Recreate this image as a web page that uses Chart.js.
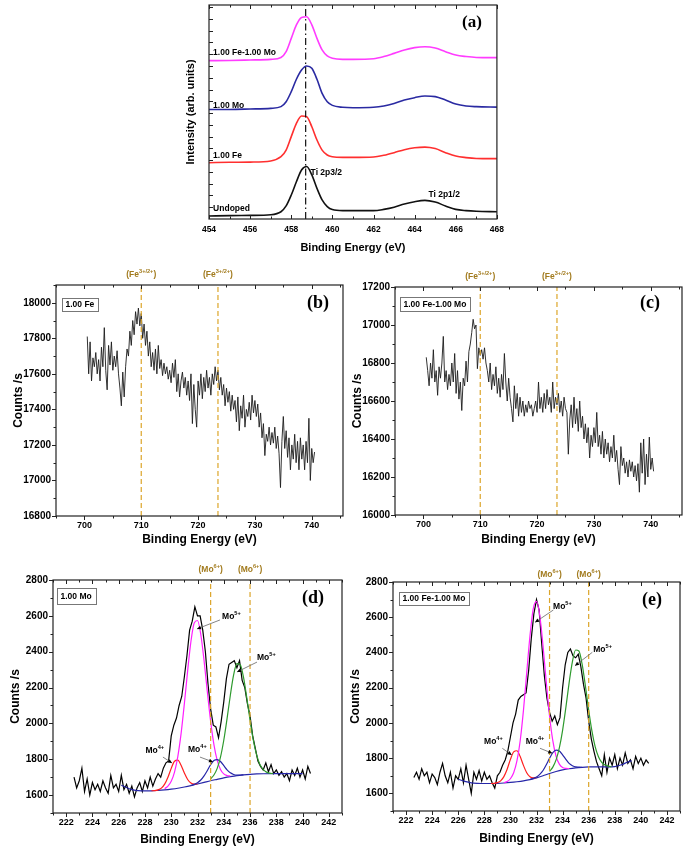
<!DOCTYPE html>
<html lang="en">
<head>
<meta charset="utf-8">
<title>XPS spectra</title>
<script src="https://cdn.jsdelivr.net/npm/chart.js@4.4.1/dist/chart.umd.min.js"></script>
<style>
  body { margin: 0; background: #fff; }
  #figure { position: relative; width: 685px; height: 852px; overflow: hidden; }
  #figure canvas { position: absolute; }
</style>
</head>
<body>
<div id="figure">
  <canvas id="panelA"></canvas>
  <canvas id="panelB"></canvas>
  <canvas id="panelC"></canvas>
  <canvas id="panelD"></canvas>
  <canvas id="panelE"></canvas>
</div>
<script>
// ---- (a) Ti 2p, stacked spectra (arb. units) ----
const tiEnergy = [454, 455, 456, 457, 457.5, 457.75, 458, 458.25, 458.5, 458.75, 459, 459.25, 459.5, 459.75,
  460, 460.5, 461, 462, 462.5, 463, 463.5, 464, 464.5, 465, 465.5, 466, 466.5, 467, 468];
const tiUndoped = [1.4, 1.6, 1.7, 2.0, 3.4, 6.1, 11.2, 17.4, 22.9, 24.5, 20.6, 14.3, 8.9, 5.8,
  4.4, 3.9, 3.9, 3.9, 4.5, 5.5, 7.0, 8.1, 8.7, 7.9, 6.1, 4.5, 3.9, 3.6, 3.4];
const tiFe = [26.3, 26.5, 26.6, 27.1, 29.1, 32.2, 38.5, 44.7, 48.1, 47.8, 43.1, 36.9, 32.2, 29.9,
  29.1, 28.8, 28.8, 29.0, 29.8, 31.0, 32.4, 33.3, 33.6, 32.9, 31.0, 29.4, 28.7, 28.3, 28.2];
const tiMo = [51.2, 51.2, 51.4, 51.7, 52.5, 54.8, 59.5, 65.3, 69.6, 71.5, 70.4, 65.3, 58.7, 54.8,
  53.1, 52.2, 52.0, 52.2, 52.8, 54.0, 55.6, 56.7, 57.5, 57.2, 55.6, 53.7, 52.8, 52.5, 52.3];
const tiFeMo = [74.0, 74.1, 74.3, 74.6, 75.5, 78.2, 84.4, 90.7, 94.2, 94.5, 90.7, 84.4, 79.0, 76.2,
  75.1, 74.6, 74.6, 74.9, 75.9, 77.4, 79.0, 80.1, 80.5, 79.9, 78.2, 76.6, 75.9, 75.5, 75.4];
const ti2p32 = 458.7;

// ---- (b), (c) Fe 2p scans, 700.5 .. 740.5 eV every 0.25 eV ----
const feScanStart = 700.5, feScanStep = 0.25;
const feCounts = [
  17810, 17600, 17780, 17560, 17690, 17640, 17720, 17600, 17680, 17560, 17750, 17640,
  17860, 17620, 17510, 17760, 17650, 17780, 17620, 17700, 17640, 17730, 17600, 17520,
  17420, 17610, 17470, 17640, 17740, 17700, 17840, 17760, 17900, 17820, 17950, 17880,
  17970, 17870, 17940, 17800, 17880, 17760, 17840, 17700, 17780, 17640, 17720, 17620,
  17740, 17600, 17760, 17630, 17680, 17590, 17660, 17600, 17640, 17570, 17620, 17550,
  17660, 17580, 17680, 17500, 17600, 17470, 17560, 17610, 17520, 17580, 17480, 17560,
  17450, 17600, 17320, 17540, 17400, 17300, 17560, 17480, 17600, 17460, 17580, 17500,
  17620, 17520, 17580, 17480, 17600, 17540, 17640, 17560, 17620, 17510, 17580, 17480,
  17540, 17420, 17520, 17440, 17500, 17390, 17480, 17400, 17450, 17330, 17470, 17280,
  17420, 17350, 17480, 17300, 17400, 17360, 17440, 17340, 17480, 17380, 17450, 17360,
  17430, 17300, 17380, 17240, 17320, 17140, 17260, 17220, 17300, 17200, 17270, 17210,
  17300, 17180, 17250, 17150, 16960, 17220, 17360, 17180, 17280, 17130, 17240, 17060,
  17200, 17120, 17260, 17100, 17220, 17060, 17240, 17120, 17200, 17060, 17220, 17100,
  17350, 17000, 17180, 17100, 17160];
const feMoCounts = [
  16830, 16760, 16680, 16800, 16720, 16870, 16700, 16760, 16630, 16780, 16720, 16800,
  16940, 16700, 16760, 16660, 16740, 16680, 16800, 16700, 16850, 16640, 16760, 16610,
  16700, 16550, 16720, 16680, 16810, 16700, 16860, 16900, 16960, 17030, 16980, 17000,
  16770, 16880, 16840, 16870, 16820, 16880, 16800, 16760, 16700, 16800, 16660, 16740,
  16680, 16780, 16640, 16720, 16620, 16740, 16660, 16850, 16700, 16600, 16720, 16620,
  16560, 16490, 16680, 16560, 16640, 16520, 16620, 16540, 16600, 16520, 16580, 16540,
  16600, 16560, 16580, 16520, 16560, 16600, 16540, 16700, 16560, 16620, 16540, 16640,
  16560, 16660, 16580, 16620, 16540, 16700, 16560, 16620, 16580, 16640, 16540, 16600,
  16520, 16620, 16560, 16540, 16320, 16500, 16580, 16460, 16620, 16480, 16560, 16440,
  16600, 16460, 16520, 16400, 16480, 16380, 16460, 16300, 16420, 16360, 16460, 16380,
  16540, 16360, 16420, 16320, 16440, 16300, 16400, 16320, 16380, 16280, 16360, 16300,
  16420, 16280, 16340, 16240, 16160, 16360, 16260, 16300, 16220, 16280, 16200, 16290,
  16230, 16280, 16200, 16260, 16180, 16270, 16120, 16380, 16220, 16400, 16160, 16320,
  16200, 16410, 16240, 16300, 16230];
const feLines = [710, 723.5];

// ---- (d), (e) Mo 3d scans, 222.6 .. 240.6 eV every 0.2 eV ----
const moScanStart = 222.6, moScanStep = 0.2;
const moCounts = [
  1700, 1640, 1680, 1750, 1620, 1690, 1600, 1670, 1630, 1660,
  1620, 1680, 1640, 1610, 1710, 1640, 1660, 1620, 1710, 1630,
  1660, 1610, 1650, 1590, 1640, 1670, 1620, 1680, 1640, 1700,
  1650, 1690, 1720, 1700, 1750, 1780, 1790, 1930, 1990, 2030,
  2100, 2150, 2260, 2380, 2520, 2570, 2650, 2600, 2600, 2520,
  2400, 2220, 2080, 1990, 1980, 1920, 2010, 2120, 2250, 2330,
  2340, 2350, 2310, 2350, 2240, 2200, 2110, 2040, 1930, 1860,
  1790, 1760, 1740, 1780, 1730, 1770, 1720, 1740, 1710, 1730,
  1700, 1720, 1680, 1740, 1710, 1750, 1700, 1740, 1690, 1760, 1720];
const feMoMoCounts = [
  1690, 1720, 1680, 1740, 1700, 1720, 1660, 1710, 1690, 1650,
  1720, 1770, 1700, 1660, 1720, 1630, 1700, 1680, 1740, 1660,
  1760, 1680, 1600, 1720, 1680, 1730, 1670, 1720, 1680, 1700,
  1660, 1630, 1700, 1720, 1760, 1790, 1840, 1920, 2000, 2050,
  2130, 2150, 2160, 2170, 2300, 2480, 2620, 2700, 2640, 2450,
  2270, 2140, 2060, 2010, 2040, 1990, 2030, 2200, 2330, 2400,
  2420, 2380, 2370, 2390, 2320, 2220, 2140, 2010, 1910, 1840,
  1780, 1740, 1700, 1820, 1720, 1800, 1760, 1820, 1740, 1800,
  1760, 1830, 1770, 1790, 1740, 1810, 1770, 1800, 1760, 1790, 1770];
const moLines = [233, 236];

// fitted components, every 0.25 eV from the given start
const fitStep = 0.25;
const dRedStart = 228.5, dRed = [1624, 1625, 1629, 1639, 1661, 1700, 1749, 1789, 1795, 1766, 1723, 1687, 1667, 1661, 1663];
const dMagStart = 229.5, dMag = [1636, 1650, 1677, 1728, 1815, 1943, 2110, 2293, 2457, 2560, 2574, 2496, 2350, 2175, 2011, 1882, 1794, 1743, 1718, 1709, 1706];
const dBlueStart = 231.5, dBlue = [1654, 1660, 1669, 1684, 1707, 1737, 1770, 1793, 1798, 1787, 1764, 1741, 1724, 1715, 1712, 1712, 1713];
const dGreenStart = 233, dGreen = [1691, 1712, 1749, 1812, 1906, 2027, 2157, 2270, 2333, 2328, 2258, 2144, 2018, 1907, 1824, 1771, 1743, 1728, 1722, 1720];
const dBgE = [226.2, 226.5, 227, 227.5, 228, 228.5, 229, 229.5, 230, 230.5, 231, 231.5, 232, 232.5, 233, 233.5, 234, 234.5, 235, 235.5, 236, 236.5, 237, 238, 239, 240];
const dBg = [1655, 1645, 1630, 1625, 1624, 1624, 1626, 1629, 1633, 1638, 1645, 1653, 1662, 1671, 1680, 1688, 1696, 1703, 1709, 1713, 1716, 1718, 1719, 1720, 1720, 1720];

const eRedStart = 228.5, eRed = [1656, 1657, 1661, 1671, 1695, 1737, 1793, 1836, 1842, 1809, 1759, 1717, 1694, 1688, 1689];
const eMagStart = 229.5, eMag = [1661, 1667, 1683, 1717, 1784, 1899, 2071, 2285, 2495, 2648, 2690, 2611, 2438, 2230, 2039, 1899, 1811, 1766, 1747, 1742, 1741];
const eBlueStart = 231.5, eBlue = [1679, 1685, 1693, 1708, 1730, 1763, 1799, 1831, 1846, 1841, 1819, 1793, 1770, 1757, 1750, 1749, 1748];
const eGreenStart = 233, eGreen = [1725, 1749, 1790, 1858, 1958, 2087, 2227, 2347, 2414, 2408, 2332, 2209, 2073, 1953, 1864, 1808, 1776, 1761, 1755, 1751];
const eBgE = [226, 226.5, 227, 227.5, 228, 228.5, 229, 229.5, 230, 230.5, 231, 231.5, 232, 232.5, 233, 233.5, 234, 234.5, 235, 235.5, 236, 236.5, 237, 237.5, 238, 238.5, 239, 239.3];
const eBg = [1680, 1668, 1660, 1657, 1656, 1656, 1657, 1659, 1662, 1666, 1671, 1678, 1688, 1700, 1713, 1724, 1733, 1740, 1745, 1748, 1750, 1751, 1751, 1751, 1752, 1762, 1778, 1785];

// ---- helpers ----
const SANS = '"Liberation Sans", Arial, Helvetica, sans-serif';
const SERIF = '"Liberation Serif", "Times New Roman", serif';
const GOLD_LINE = '#dca52a';
const GOLD_TEXT = '#a27b1e';
Chart.defaults.font.family = SANS;
Chart.defaults.color = '#000';

function series(start, step, vals) {
  return vals.map((v, i) => ({ x: +(start + i * step).toFixed(3), y: v }));
}
function pairs(xs, ys) { return xs.map((x, i) => ({ x, y: ys[i] })); }
function range(a, b, s) {
  const out = [];
  for (let v = a; v <= b + 1e-9; v += s) out.push(+v.toFixed(3));
  return out;
}
function curve(data, color, width, smooth) {
  return { data, borderColor: color, borderWidth: width, pointRadius: 0, fill: false,
           tension: 0, cubicInterpolationMode: smooth ? 'monotone' : 'default' };
}
function vline(x, lo, hi, color, dash) {
  return { data: [{ x, y: lo }, { x, y: hi }], borderColor: color, borderWidth: 1.2,
           borderDash: dash, pointRadius: 0, fill: false };
}

// text with superscript parts: parts = [normal, sup, normal, ...]
function richWidth(ctx, parts, size) {
  let w = 0;
  parts.forEach((t, i) => { ctx.font = `bold ${i % 2 ? size * 0.66 : size}px ${SANS}`; w += ctx.measureText(t).width; });
  return w;
}
function drawRich(ctx, parts, x, y, size, align, color) {
  const supSize = size * 0.66;
  let cx = align === 'center' ? x - richWidth(ctx, parts, size) / 2 : x;
  ctx.fillStyle = color;
  ctx.textAlign = 'left';
  ctx.textBaseline = 'middle';
  parts.forEach((t, i) => {
    ctx.font = `bold ${i % 2 ? supSize : size}px ${SANS}`;
    ctx.fillText(t, cx, i % 2 ? y - size * 0.38 : y);
    cx += ctx.measureText(t).width;
  });
}

const decoPlugin = {
  id: 'deco',
  afterDraw(chart, args, o) {
    const { ctx, chartArea: a, scales: { x, y } } = chart;
    ctx.save();
    const seg = (x1, y1, x2, y2) => { ctx.beginPath(); ctx.moveTo(x1, y1); ctx.lineTo(x2, y2); ctx.stroke(); };
    const out = o.tickDir === 'out' ? 1 : -1;

    // frame and tick marks
    ctx.strokeStyle = '#222';
    ctx.lineWidth = 1.2;
    ctx.strokeRect(a.left, a.top, a.right - a.left, a.bottom - a.top);
    ctx.lineWidth = 1;
    [[o.xMajor, 4], [o.xMinor, 2.5]].forEach(([vals, len]) => vals.forEach(v => {
      const px = Math.round(x.getPixelForValue(v)) + 0.5;
      seg(px, a.bottom, px, a.bottom + out * len);
      seg(px, a.top, px, a.top + len);
    }));
    [[o.yMajor, 4], [o.yMinor, 2.5]].forEach(([vals, len]) => vals.forEach(v => {
      const py = Math.round(y.getPixelForValue(v)) + 0.5;
      seg(a.left, py, a.left - out * len, py);
    }));

    // labels above the reference lines
    (o.marks || []).forEach(m => drawRich(ctx, m.parts, x.getPixelForValue(m.x), a.top + o.markDy, 8.5, 'center', GOLD_TEXT));

    // sample name box, sized to its text
    if (o.box) {
      const b = o.box;
      const w = Math.max(b.w, Math.ceil(richWidth(ctx, [b.text], 8.5)) + 7);
      ctx.fillStyle = '#fff';
      ctx.fillRect(a.left + b.dx, a.top + b.dy, w, b.h);
      ctx.strokeStyle = '#777';
      ctx.lineWidth = 1;
      ctx.strokeRect(a.left + b.dx + 0.5, a.top + b.dy + 0.5, w, b.h);
      drawRich(ctx, [b.text], a.left + b.dx + 3.5, a.top + b.dy + b.h / 2 + 0.5, 8.5, 'left', '#000');
    }

    // free labels and arrows
    (o.texts || []).forEach(t => drawRich(ctx, t.parts, x.getPixelForValue(t.at[0]), y.getPixelForValue(t.at[1]), t.size || 8.5, 'left', '#000'));
    (o.arrows || []).forEach(([p, q]) => {
      const x1 = x.getPixelForValue(p[0]), y1 = y.getPixelForValue(p[1]);
      const x2 = x.getPixelForValue(q[0]), y2 = y.getPixelForValue(q[1]);
      ctx.strokeStyle = '#666';
      ctx.lineWidth = 0.8;
      seg(x1, y1, x2, y2);
      const ang = Math.atan2(y2 - y1, x2 - x1), L = 4.5;
      ctx.fillStyle = '#000';
      ctx.beginPath();
      ctx.moveTo(x2, y2);
      ctx.lineTo(x2 - L * Math.cos(ang - 0.45), y2 - L * Math.sin(ang - 0.45));
      ctx.lineTo(x2 - L * Math.cos(ang + 0.45), y2 - L * Math.sin(ang + 0.45));
      ctx.closePath();
      ctx.fill();
    });

    // panel letter
    const l = o.letter;
    ctx.font = `bold ${l.size}px ${SERIF}`;
    ctx.fillStyle = '#000';
    ctx.textAlign = 'center';
    ctx.textBaseline = 'middle';
    ctx.fillText(l.text, a.right + l.dx, a.top + l.dy);
    ctx.restore();
  }
};

function makePanel(id, spec) {
  const cv = document.getElementById(id);
  const b = spec.box, a = spec.area;
  cv.style.left = b.l + 'px';
  cv.style.top = b.t + 'px';
  cv.width = b.w;
  cv.height = b.h;
  return new Chart(cv, {
    type: 'line',
    data: { datasets: spec.datasets },
    options: {
      responsive: false,
      animation: false,
      devicePixelRatio: 1,
      layout: { autoPadding: false, padding: { top: a.t - b.t, right: b.l + b.w - a.r, left: 0, bottom: 0 } },
      plugins: { legend: { display: false }, tooltip: { enabled: false }, deco: spec.deco },
      scales: {
        x: {
          type: 'linear', min: spec.x.min, max: spec.x.max,
          afterBuildTicks: s => { s.ticks = spec.x.labels.map(value => ({ value })); },
          ticks: { color: '#000', font: { size: spec.x.font, weight: 'bold' }, padding: spec.x.pad,
                   maxRotation: 0, autoSkip: false, callback: v => String(v) },
          grid: { display: false, drawTicks: false },
          border: { display: false },
          title: { display: true, text: 'Binding Energy (eV)', color: '#000', padding: 0,
                   font: { size: spec.x.titleSize, weight: 'bold' } },
          afterFit: s => { s.height = b.t + b.h - a.b; }
        },
        y: {
          type: 'linear', min: spec.y.min, max: spec.y.max,
          afterBuildTicks: s => { s.ticks = spec.y.labels.map(value => ({ value })); },
          ticks: { display: spec.y.labels.length > 0, color: '#000', font: { size: 10, weight: 'bold' },
                   padding: 5, autoSkip: false, callback: v => String(v) },
          grid: { display: false, drawTicks: false },
          border: { display: false },
          title: { display: true, text: spec.y.title, color: '#000', padding: 0,
                   font: { size: spec.y.titleSize, weight: 'bold' } },
          afterFit: s => { s.width = a.l - b.l; }
        }
      }
    },
    plugins: [decoPlugin]
  });
}

const FE_LABEL = ['(Fe', '3+/2+', ')'];
const MO_LABEL = ['(Mo', '6+', ')'];
const FE_X = { min: 695, max: 745.5, labels: range(700, 740, 10), font: 9, pad: 4, titleSize: 12 };
const MO_X = { min: 221, max: 243, labels: range(222, 242, 2), font: 9, pad: 4, titleSize: 12 };
const MO_Y = { min: 1500, max: 2800, labels: range(1600, 2800, 200), title: 'Counts /s', titleSize: 12 };

// (a)
makePanel('panelA', {
  box: { l: 184, t: 0, w: 326, h: 255 }, area: { l: 209, t: 5, r: 500, b: 219 },
  x: { min: 454, max: 468, labels: range(454, 468, 2), font: 8.5, pad: 6, titleSize: 11 },
  y: { min: 0, max: 100, labels: [], title: 'Intensity (arb. units)', titleSize: 11 },
  datasets: [
    vline(ti2p32, 0, 100, '#111', [7, 3, 1.5, 3]),
    curve(pairs(tiEnergy, tiFeMo), '#ff3cff', 1.6, true),
    curve(pairs(tiEnergy, tiMo), '#2a2aa2', 1.6, true),
    curve(pairs(tiEnergy, tiFe), '#ff2f2f', 1.6, true),
    curve(pairs(tiEnergy, tiUndoped), '#111', 1.6, true)
  ],
  deco: {
    tickDir: 'in', xMajor: range(454, 468, 2), xMinor: range(455, 467, 2),
    yMajor: range(5.5, 99, 5.5), yMinor: [],
    letter: { text: '(a)', dx: -25, dy: 18, size: 17 },
    texts: [
      { at: [454.2, 77.6], parts: ['1.00 Fe-1.00 Mo'] },
      { at: [454.2, 52.8], parts: ['1.00 Mo'] },
      { at: [454.2, 29.4], parts: ['1.00 Fe'] },
      { at: [454.2, 4.7], parts: ['Undoped'] },
      { at: [458.94, 21.8], parts: ['Ti 2p3/2'] },
      { at: [464.67, 11.2], parts: ['Ti 2p1/2'] }
    ]
  }
});

// (b)
makePanel('panelB', {
  box: { l: 11, t: 262, w: 334, h: 285 }, area: { l: 56, t: 285, r: 343, b: 516 },
  x: FE_X,
  y: { min: 16800, max: 18100, labels: range(16800, 18000, 200), title: 'Counts /s', titleSize: 12 },
  datasets: [
    ...feLines.map(e => vline(e, 16800, 18100, GOLD_LINE, [5, 3])),
    curve(series(feScanStart, feScanStep, feCounts), '#1c1c1c', 0.9, false)
  ],
  deco: {
    tickDir: 'out', xMajor: range(700, 740, 10), xMinor: range(695, 745, 10),
    yMajor: range(16800, 18000, 200), yMinor: range(16900, 18100, 200),
    marks: feLines.map(e => ({ x: e, parts: FE_LABEL })), markDy: -10,
    box: { dx: 6, dy: 13, w: 33, h: 13, text: '1.00 Fe' },
    letter: { text: '(b)', dx: -25, dy: 18, size: 18 }
  }
});

// (c)
makePanel('panelC', {
  box: { l: 350, t: 262, w: 335, h: 285 }, area: { l: 395, t: 287, r: 682, b: 515 },
  x: FE_X,
  y: { min: 16000, max: 17200, labels: range(16000, 17200, 200), title: 'Counts /s', titleSize: 12 },
  datasets: [
    ...feLines.map(e => vline(e, 16000, 17200, GOLD_LINE, [5, 3])),
    curve(series(feScanStart, feScanStep, feMoCounts), '#1c1c1c', 0.9, false)
  ],
  deco: {
    tickDir: 'out', xMajor: range(700, 740, 10), xMinor: range(695, 745, 10),
    yMajor: range(16000, 17200, 200), yMinor: range(16100, 17100, 200),
    marks: feLines.map(e => ({ x: e, parts: FE_LABEL })), markDy: -10,
    box: { dx: 5, dy: 10, w: 68, h: 14, text: '1.00 Fe-1.00 Mo' },
    letter: { text: '(c)', dx: -32, dy: 16, size: 18 }
  }
});

// (d)
makePanel('panelD', {
  box: { l: 8, t: 560, w: 337, h: 287 }, area: { l: 53, t: 580, r: 342, b: 813 },
  x: MO_X, y: MO_Y,
  datasets: [
    ...moLines.map(e => vline(e, 1500, 2800, GOLD_LINE, [5, 3])),
    curve(series(dGreenStart, fitStep, dGreen), '#2e9a2e', 1.2, true),
    curve(series(dBlueStart, fitStep, dBlue), '#2626a8', 1.2, true),
    curve(series(dMagStart, fitStep, dMag), '#ff1fff', 1.2, true),
    curve(series(dRedStart, fitStep, dRed), '#ff2020', 1.2, true),
    curve(pairs(dBgE, dBg), '#2626a8', 1.2, true),
    curve(series(moScanStart, moScanStep, moCounts), '#000', 1.2, false)
  ],
  deco: {
    tickDir: 'out', xMajor: range(222, 242, 2), xMinor: range(221, 243, 2),
    yMajor: range(1600, 2800, 200), yMinor: range(1500, 2700, 200),
    marks: moLines.map(e => ({ x: e, parts: MO_LABEL })), markDy: -10,
    box: { dx: 4, dy: 8, w: 38, h: 16, text: '1.00 Mo' },
    letter: { text: '(d)', dx: -29, dy: 18, size: 18 },
    texts: [
      { at: [233.87, 2594], parts: ['Mo', '5+'] },
      { at: [236.53, 2365], parts: ['Mo', '5+'] },
      { at: [228.04, 1846], parts: ['Mo', '4+'] },
      { at: [231.28, 1851], parts: ['Mo', '4+'] }
    ],
    arrows: [
      [[233.71, 2577], [231.96, 2527]],
      [[236.53, 2342], [235.01, 2287]],
      [[229.37, 1812], [230.06, 1779]],
      [[232.19, 1812], [233.18, 1785]]
    ]
  }
});

// (e)
makePanel('panelE', {
  box: { l: 348, t: 560, w: 337, h: 286 }, area: { l: 393, t: 582, r: 680, b: 811 },
  x: MO_X, y: MO_Y,
  datasets: [
    ...moLines.map(e => vline(e, 1500, 2800, GOLD_LINE, [5, 3])),
    curve(series(eGreenStart, fitStep, eGreen), '#2e9a2e', 1.2, true),
    curve(series(eBlueStart, fitStep, eBlue), '#2626a8', 1.2, true),
    curve(series(eMagStart, fitStep, eMag), '#ff1fff', 1.2, true),
    curve(series(eRedStart, fitStep, eRed), '#ff2020', 1.2, true),
    curve(pairs(eBgE, eBg), '#2626a8', 1.2, true),
    curve(series(moScanStart, moScanStep, feMoMoCounts), '#000', 1.2, false)
  ],
  deco: {
    tickDir: 'out', xMajor: range(222, 242, 2), xMinor: range(221, 243, 2),
    yMajor: range(1600, 2800, 200), yMinor: range(1500, 2700, 200),
    marks: moLines.map(e => ({ x: e, parts: MO_LABEL })), markDy: -7,
    box: { dx: 6, dy: 10, w: 66, h: 13, text: '1.00 Fe-1.00 Mo' },
    letter: { text: '(e)', dx: -28, dy: 18, size: 18 },
    texts: [
      { at: [233.27, 2658], parts: ['Mo', '5+'] },
      { at: [236.35, 2414], parts: ['Mo', '5+'] },
      { at: [227.98, 1893], parts: ['Mo', '4+'] },
      { at: [231.17, 1893], parts: ['Mo', '4+'] }
    ],
    arrows: [
      [[233.29, 2641], [231.89, 2571]],
      [[236.28, 2401], [234.95, 2325]],
      [[229.38, 1856], [230.10, 1818]],
      [[232.27, 1856], [233.21, 1828]]
    ]
  }
});
</script>
</body>
</html>
